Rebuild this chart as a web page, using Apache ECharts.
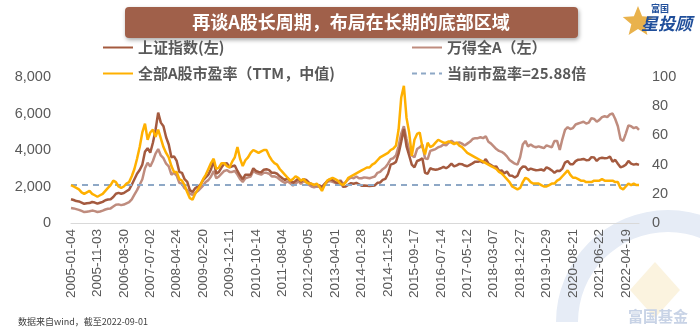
<!DOCTYPE html>
<html><head><meta charset="utf-8">
<script src="https://cdn.jsdelivr.net/npm/echarts@6/dist/echarts.min.js"></script>
<style>html,body{margin:0;padding:0;background:#fff}#c{width:700px;height:332px}</style>
</head><body><div id="c"></div>
<script>
const tickLabels = ['2005-01-04','2005-11-03','2006-08-30','2007-07-02','2008-04-24','2009-02-20','2009-12-11','2010-10-14','2011-08-04','2012-06-05','2013-04-01','2014-01-28','2014-11-25','2015-09-17','2016-07-14','2017-05-12','2018-03-07','2018-12-27','2019-10-29','2020-08-21','2021-06-22','2022-04-19'];
const leftTicks = [0, 2000, 4000, 6000, 8000];
const rightTicks = [0, 20, 40, 60, 80, 100];
const currentPE = 25.88;

const sse = [1300,1260,1200,1180,1120,1050,1080,1090,1150,1120,
1060,1110,1160,1250,1290,1300,1420,1600,1650,1600,
1640,1740,1830,2100,2400,2700,2900,3200,3900,4100,
3850,4400,5100,6050,5500,5300,4700,4300,3600,3650,
3400,2800,2750,2400,2250,1800,1700,1900,2000,2100,
2350,2500,2650,2950,3400,2700,2800,3050,3250,3280,
3050,3100,3150,2850,2600,2400,2650,2650,2650,3000,
2850,2800,2780,2920,2950,2900,2750,2760,2700,2560,
2450,2360,2450,2320,2200,2300,2430,2260,2400,2360,
2220,2130,2080,2100,2060,1980,2150,2300,2400,2360,
2240,2180,2300,1980,2000,2100,2180,2150,2200,2120,
2040,2050,2040,2030,2040,2060,2200,2220,2360,2420,
2700,3200,3250,3350,3800,4450,5150,4200,3700,3200,
3050,3400,3450,3550,2750,2700,3000,2940,2920,2950,
3000,3080,3000,3100,3250,3100,3160,3240,3220,3150,
3110,3190,3270,3360,3350,3390,3310,3500,3260,3170,
3080,3100,2850,2880,2720,2820,2600,2590,2490,2590,
2940,3090,3080,2900,2980,2930,2890,2900,2930,2870,
3050,2980,2880,2750,2860,2850,2980,3310,3400,3220,
3220,3390,3470,3480,3510,3440,3450,3610,3590,3400,
3540,3570,3550,3560,3640,3360,3460,3250,3050,3100,
3190,3400,3250,3200,3230,3185];

const windA = [820,800,760,720,660,600,620,640,680,650,
600,630,680,740,780,800,900,1000,1020,980,
1010,1080,1150,1300,1550,1800,2100,2400,3000,3300,
3100,3400,3800,4050,3700,3550,3250,3100,2650,2750,
2600,2200,2150,1900,1800,1600,1550,1650,1750,1900,
2050,2250,2350,2550,2850,2450,2550,2700,2850,2900,
2800,2800,2850,2650,2400,2250,2450,2500,2550,2850,
2750,2700,2650,2750,2750,2700,2550,2560,2500,2380,
2280,2200,2280,2180,2050,2150,2300,2150,2280,2240,
2100,2000,1960,2000,1980,1900,2080,2250,2300,2250,
2200,2200,2350,2150,2250,2400,2500,2450,2550,2450,
2450,2500,2480,2450,2500,2550,2750,2800,2950,3050,
3250,3500,3550,3700,4200,4900,5300,4600,4000,3700,
3600,4050,4150,4300,3550,3500,3950,4000,4050,4150,
4200,4300,4250,4400,4500,4400,4380,4420,4350,4250,
4350,4450,4600,4650,4650,4700,4650,4750,4450,4350,
4200,4050,3950,3900,3800,3650,3450,3350,3250,3200,
3600,4300,4500,4200,4300,4200,4150,4200,4150,4100,
4250,4200,4150,4500,4500,4000,4600,5100,5250,5150,
5200,5400,5450,5500,5550,5450,5500,5750,5700,5550,
5650,5800,5850,5800,5950,6000,5700,5300,4600,4500,
4900,5350,5300,5200,5250,5100];

const pe = [26,25,24,23,21,20,21,22,20,19,
18,19,20,22,24,26,29,28,25,24,
25,27,28,32,37,44,52,62,68,57,
62,64,59,64,58,52,48,45,39,35,
35,30,29,26,21,17,16,20,23,26,
30,33,37,41,44,37,38,41,41,39,
38,42,45,52,44,39,43,45,48,50,
49,48,49,50,50,46,43,41,40,37,
35,33,31,29,30,32,31,29,30,28,
27,27,26,27,25,22,26,29,30,31,
30,29,27,26,28,31,32,33,34,35,
36,37,38,38,40,41,43,45,46,47,
48,50,51,53,64,86,94,72,62,46,
57,61,62,52,47,55,52,53,55,57,
56,55,55,56,55,54,55,53,52,50,
48,47,46,45,44,43,42,41,40,39,
38,37,35,34,32,30,28,25,24,23,
24,28,31,30,28,27,27,27,26,25,
25,26,27,27,29,30,32,34,36,33,
31,31,30,29,29,28,28,28,29,29,
29,30,29,29,29,29,28,28,24,23,
25,27,26,27,26,26];

const categories = sse.map((v, i) => (i % 10 === 0 ? tickLabels[i / 10] : ''));

const C_SSE = '#A45A3F', C_WIND = '#BF8C7E', C_PE = '#FFB000', C_DASH = '#8EA8C6';
const FONT = '"Noto Sans CJK SC", "Liberation Sans", sans-serif';
const legendCommon = {
  itemWidth: 30, itemHeight: 14, itemGap: 4, padding: 0,
  itemStyle: { color: 'rgba(0,0,0,0)', borderWidth: 0, opacity: 0 },
  textStyle: { fontSize: 15, color: '#595959', fontWeight: 'bold', fontFamily: FONT }
};

// star points for logo (decoration)
const star = [];
for (let k = 0; k < 10; k++) {
  const r = k % 2 === 0 ? 16 : 7;
  const a = -Math.PI / 2 + k * Math.PI / 5;
  star.push([638 + r * Math.cos(a), 22 + r * Math.sin(a)]);
}

const chart = echarts.init(document.getElementById('c'), null, { renderer: 'canvas' });
chart.setOption({
  animation: false,
  backgroundColor: '#fff',
  textStyle: { fontFamily: FONT },
  grid: { left: 71, right: 61, top: 77, bottom: 109, containLabel: false },
  legend: [
    Object.assign({ data: ['上证指数(左)'], left: 102, top: 40 }, legendCommon),
    Object.assign({ data: ['万得全A（左）'], left: 411, top: 40 }, legendCommon),
    Object.assign({ data: ['全部A股市盈率（TTM，中值)'], left: 102, top: 66 }, legendCommon),
    Object.assign({ data: [{ name: '当前市盈率=25.88倍', lineStyle: { type: [5, 4], width: 2, color: C_DASH } }], left: 411, top: 66 }, legendCommon)
  ],
  xAxis: {
    type: 'category', data: categories, boundaryGap: false,
    axisLine: { show: true, lineStyle: { color: '#D9D9D9', width: 1 } },
    axisTick: { show: false },
    axisLabel: { interval: 9, rotate: 90, fontSize: 13.5, color: '#595959', margin: 6, fontFamily: '"Liberation Sans", Arial, sans-serif' },
    splitLine: { show: false }
  },
  yAxis: [
    {
      type: 'value', min: leftTicks[0], max: leftTicks[leftTicks.length - 1], interval: 2000,
      axisLine: { show: false }, axisTick: { show: false }, splitLine: { show: false },
      axisLabel: { fontSize: 14.5, color: '#595959', margin: 20, fontFamily: '"Liberation Sans", Arial, sans-serif',
        formatter: v => v.toLocaleString('en-US') }
    },
    {
      type: 'value', min: rightTicks[0], max: rightTicks[rightTicks.length - 1], interval: 20,
      axisLine: { show: false }, axisTick: { show: false }, splitLine: { show: false },
      axisLabel: { fontSize: 14.5, color: '#595959', margin: 13, fontFamily: '"Liberation Sans", Arial, sans-serif' }
    }
  ],
  series: [
    { name: '万得全A（左）', type: 'line', data: windA, yAxisIndex: 0, symbol: 'none', showSymbol: false,
      lineStyle: { color: C_WIND, width: 2.5 }, itemStyle: { color: C_WIND }, z: 3 },
    { name: '上证指数(左)', type: 'line', data: sse, yAxisIndex: 0, symbol: 'none', showSymbol: false,
      lineStyle: { color: C_SSE, width: 2.5 }, itemStyle: { color: C_SSE }, z: 4 },
    { name: '当前市盈率=25.88倍', type: 'line', data: [], yAxisIndex: 1, symbol: 'none', showSymbol: false,
      lineStyle: { color: C_DASH, width: 2, type: [5, 4] }, itemStyle: { color: C_DASH }, z: 6,
      markLine: { symbol: 'none', silent: true, label: { show: false },
        lineStyle: { color: C_DASH, width: 2, type: [6, 5] }, data: [{ yAxis: currentPE }] } },
    { name: '全部A股市盈率（TTM，中值)', type: 'line', data: pe, yAxisIndex: 1, symbol: 'none', showSymbol: false,
      lineStyle: { color: C_PE, width: 2.5 }, itemStyle: { color: C_PE }, z: 5 }
  ],
  graphic: [
    // watermark (decorative)
    { type: 'sector', z: -10, shape: { cx: 668, cy: 322, r: 112, r0: 90, startAngle: Math.PI, endAngle: 2 * Math.PI }, style: { fill: '#E6ECF6' } },
    { type: 'polygon', z: -10, shape: { points: [[655, 262], [680, 290], [655, 318], [630, 290]] }, style: { fill: '#FBF3DF' } },
    { type: 'text', z: -9, left: 628, top: 309, style: { text: '富国基金', fontSize: 15, fontWeight: 'bold', fill: '#C8D3E6', fontFamily: FONT } },
    // title box
    { type: 'rect', shape: { x: 125, y: 7, width: 453, height: 31, r: 4 },
      style: { fill: '#A0604A', shadowBlur: 4, shadowOffsetX: 1, shadowOffsetY: 2, shadowColor: 'rgba(0,0,0,0.35)' } },
    { type: 'text', x: 351, y: 22, style: { text: '再谈A股长周期，布局在长期的底部区域', fontSize: 18, fontWeight: 'bold',
      fill: '#ffffff', align: 'center', verticalAlign: 'middle', fontFamily: FONT } },
    // logo
    { type: 'polygon', shape: { points: star }, style: { fill: '#E9B24C' } },
    { type: 'text', x: 651, y: 4, style: { text: '富国', fontSize: 9, fontWeight: 'bold', fill: '#1F4E9A', fontFamily: FONT } },
    { type: 'text', x: 641, y: 15, style: { text: '星投顾', fontSize: 17, fontWeight: 'bold', fontStyle: 'italic', fill: '#1F4E9A', fontFamily: FONT } },
    // footer
    { type: 'text', x: 18, y: 317, style: { text: '数据来自wind，截至2022-09-01', fontSize: 9, fill: '#404040', fontFamily: FONT } }
  ]
});
</script></body></html>
